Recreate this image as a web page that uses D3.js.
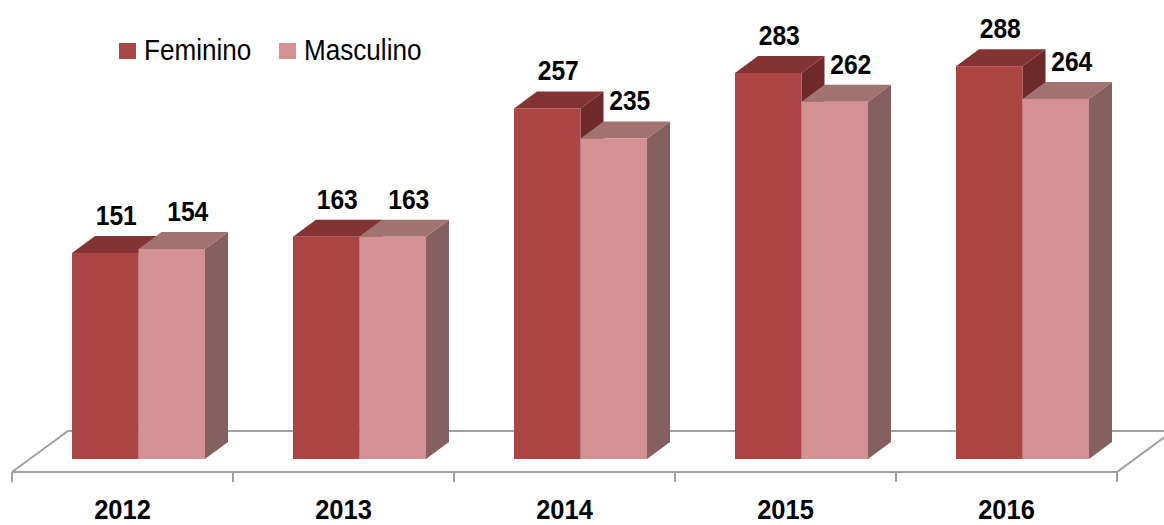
<!DOCTYPE html>
<html>
<head>
<meta charset="utf-8">
<script src="https://cdn.jsdelivr.net/npm/d3@7"></script>
<style>
  body { margin: 0; background: #fff; }
  svg { display: block; }
  .val { font-family: "Liberation Sans", Arial, sans-serif; font-weight: bold; font-size: 28px; fill: #000; }
  .year { font-family: "Liberation Sans", Arial, sans-serif; font-weight: bold; font-size: 28px; fill: #000; }
  .leg { font-family: "Liberation Sans", Arial, sans-serif; font-size: 29px; fill: #000; }
</style>
</head>
<body>
<script>
var years = ["2012", "2013", "2014", "2015", "2016"];
var series = ["Feminino", "Masculino"];
var feminino = [151, 163, 257, 283, 288];
var masculino = [154, 163, 235, 262, 264];

var width = 1164, height = 525;
var dx = 23, dy = -17;          // bar depth
var fdx = 56, fdy = -41;        // floor depth

var colors = {
  Feminino:  { front: "#a94542", top: "#833332", side: "#6e2a29" },
  Masculino: { front: "#d39291", top: "#a07270", side: "#856060" }
};
var labelShift = { Feminino: 11, Masculino: 16 };

var svg = d3.select("body").append("svg")
    .attr("width", width)
    .attr("height", height);

var x = d3.scaleBand().domain(years).range([12, 1117]).padding(0);
var xs = d3.scaleBand().domain(series).range([60, 193]).padding(0);
var y = d3.scaleLinear().domain([0, 300]).range([459, 49.8]);

var floorFront = 472, floorLeft = 12, floorRight = 1117;

// floor
var floor = svg.append("g").attr("fill", "none").attr("stroke", "#a0a0a0").attr("stroke-width", 2);
floor.append("path")
    .attr("d", d3.line()([[floorLeft, floorFront], [floorLeft + fdx, floorFront + fdy], [width + 10, floorFront + fdy]]));
floor.append("path")
    .attr("d", d3.line()([[floorLeft, floorFront], [floorRight, floorFront], [floorRight + fdx, floorFront + fdy]]));
floor.selectAll("line.tick")
    .data(years.concat(["end"]))
  .enter().append("line")
    .attr("class", "tick")
    .attr("x1", function(d) { return d === "end" ? floorRight : x(d); })
    .attr("x2", function(d) { return d === "end" ? floorRight : x(d); })
    .attr("y1", floorFront)
    .attr("y2", floorFront + 10);

var data = [];
years.forEach(function(yr, i) {
  data.push({ year: yr, s: "Feminino", v: feminino[i] });
  data.push({ year: yr, s: "Masculino", v: masculino[i] });
});

var bars = svg.selectAll("g.bar")
    .data(data)
  .enter().append("g")
    .attr("class", "bar");

bars.each(function(d) {
  var g = d3.select(this);
  var x0 = x(d.year) + xs(d.s), x1 = x0 + xs.bandwidth();
  var yt = y(d.v), yb = y(0);
  var c = colors[d.s];
  g.append("path").attr("fill", c.side)
      .attr("d", d3.line()([[x1, yt], [x1 + dx, yt + dy], [x1 + dx, yb + dy], [x1, yb]]) + "Z");
  g.append("path").attr("fill", c.top)
      .attr("d", d3.line()([[x0, yt], [x0 + dx, yt + dy], [x1 + dx, yt + dy], [x1, yt]]) + "Z");
  g.append("rect").attr("fill", c.front)
      .attr("x", x0).attr("y", yt)
      .attr("width", x1 - x0).attr("height", yb - yt);
  g.append("text").attr("class", "val")
      .attr("text-anchor", "middle")
      .attr("transform", "translate(" + ((x0 + x1) / 2 + labelShift[d.s]) + "," + (yt + dy - 11) + ") scale(0.88,1)")
      .text(d.v);
});

// year labels
svg.selectAll("text.year")
    .data(years)
  .enter().append("text")
    .attr("class", "year")
    .attr("text-anchor", "middle")
    .attr("transform", function(d) { return "translate(" + (x(d) + x.bandwidth() / 2) + ",519) scale(0.91,1)"; })
    .text(function(d) { return d; });

// legend
var leg = svg.selectAll("g.legend")
    .data(series)
  .enter().append("g")
    .attr("class", "legend")
    .attr("transform", function(d, i) { return "translate(" + (119 + i * 160) + ",43)"; });
leg.append("rect")
    .attr("width", 17).attr("height", 16)
    .attr("fill", function(d) { return colors[d].front; });
leg.append("text")
    .attr("class", "leg")
    .attr("transform", "translate(25,17) scale(0.9,1)")
    .text(function(d) { return d; });
</script>
</body>
</html>
